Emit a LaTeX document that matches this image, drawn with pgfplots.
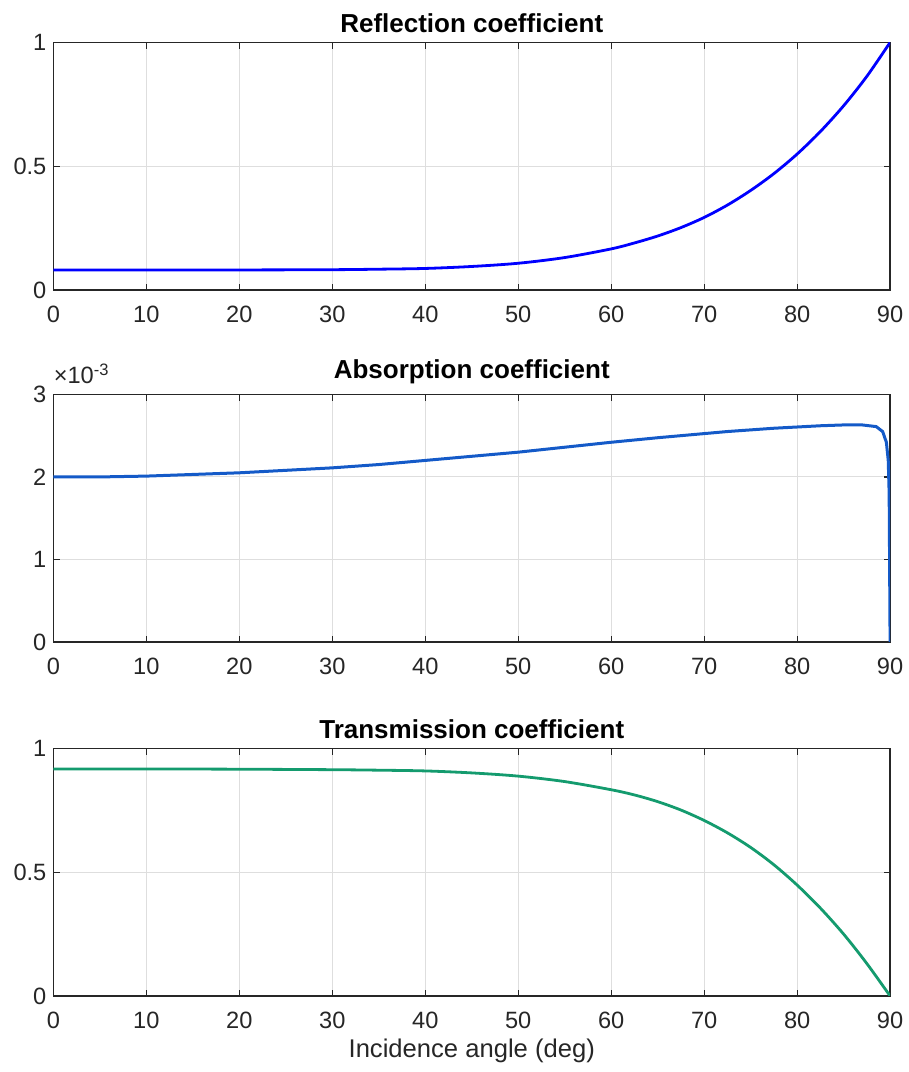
\documentclass[border=0pt]{standalone}
\usepackage{fontspec}
\setmainfont{Liberation Sans}
\usepackage{pgfplots}
\pgfplotsset{compat=1.18}
\definecolor{axgray}{rgb}{0.15,0.15,0.15}
\definecolor{gridgray}{rgb}{0.87,0.87,0.87}
\definecolor{lineA}{rgb}{0,0,1}
\definecolor{lineB}{RGB}{20,90,200}
\definecolor{lineC}{RGB}{20,155,110}
\pgfplotsset{
  myax/.style={
    scale only axis, width=418.35pt, height=123.8pt,
    xmin=0, xmax=90, xtick={0,10,...,90},
    grid=major, major grid style={gridgray, line width=0.5pt},
    axis line style={axgray, line width=0.6pt},
    major tick style={axgray, line width=0.6pt},
    major tick length=3.2pt,
    tick align=inside,
    /pgf/number format/assume math mode=true,
    tick label style={font=\fontsize{11.8}{14}\selectfont, text=axgray},
    xticklabel style={yshift=-4.5pt},
    title style={font=\fontsize{13}{15}\selectfont\bfseries, yshift=-4.5pt},
    label style={font=\fontsize{12.8}{15}\selectfont, text=axgray},
    xlabel style={yshift=2pt},
    anchor=south west,
  }
}
\begin{document}
\begin{tikzpicture}
\path[use as bounding box] (0,0) rectangle (454.5pt,536pt);
\begin{axis}[myax, at={(26.7pt,391pt)}, ymin=0, ymax=1, ytick={0,0.5,1},
  yticklabels={0,0.5,1}, title={Reflection coefficient}]
\addplot[lineA, line width=1.4pt, smooth] coordinates {
(0,0.081) (10,0.081) (20,0.081) (30,0.082) (35,0.084) (40,0.087) (45,0.095)
(50,0.108) (55,0.131) (60,0.166) (62.5,0.190) (65,0.218) (67.5,0.252)
(70,0.293) (72.5,0.343) (75,0.402) (77.5,0.470) (80,0.549) (82.5,0.640)
(85,0.744) (87.5,0.863) (90,1.0)};
\end{axis}
\begin{axis}[myax, name=ax2, at={(26.7pt,215pt)}, ymin=0, ymax=3, ytick={0,1,2,3},
  title={Absorption coefficient}]
\addplot[lineB, line width=1.5pt] coordinates {
(0,2.00) (5,2.00) (10,2.01) (15,2.03) (20,2.05) (25,2.08) (30,2.11) (35,2.15)
(40,2.20) (45,2.25) (50,2.30) (55,2.36) (60,2.42) (65,2.475) (70,2.525) (72.5,2.55)
(75,2.57) (77.5,2.59) (80,2.605) (82.5,2.62) (85,2.63) (87,2.63) (88.5,2.61)
(89.2,2.55) (89.6,2.42) (89.8,2.2) (89.9,1.8) (90,0)};
\end{axis}
\node[anchor=south west, inner sep=0pt, text=axgray, font=\fontsize{11.8}{14}\selectfont]
  at ([yshift=5pt]ax2.north west) {×10\textsuperscript{-3}};
\begin{axis}[myax, at={(26.7pt,38pt)}, ymin=0, ymax=1, ytick={0,0.5,1},
  yticklabels={0,0.5,1}, title={Transmission coefficient},
  xlabel={Incidence angle (deg)}]
\addplot[lineC, line width=1.4pt, smooth] coordinates {
(0,0.917) (10,0.917) (20,0.916) (30,0.914) (35,0.912) (40,0.909) (45,0.901)
(50,0.888) (55,0.866) (60,0.833) (62.5,0.812) (65,0.785) (67.5,0.751)
(70,0.709) (72.5,0.659) (75,0.600) (77.5,0.530) (80,0.448) (82.5,0.355)
(85,0.250) (87.5,0.131) (90,0)};
\end{axis}
\end{tikzpicture}
\end{document}
